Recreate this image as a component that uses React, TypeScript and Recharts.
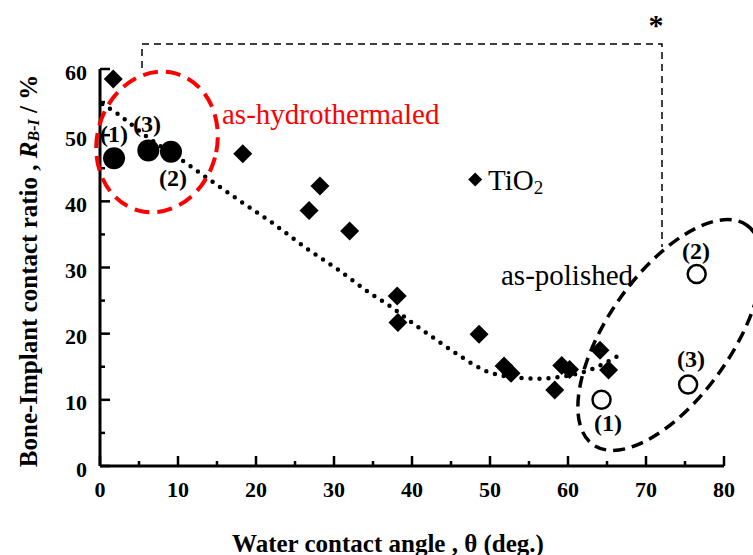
import React from 'react';
import { ScatterChart, Scatter, XAxis, YAxis } from 'recharts';

// TiO2 samples (diamonds)
const tio2Points = [
  { x: 1.7, y: 58.5 },
  { x: 18.3, y: 47.2 },
  { x: 26.8, y: 38.6 },
  { x: 28.2, y: 42.3 },
  { x: 32.0, y: 35.5 },
  { x: 38.1, y: 25.7 },
  { x: 38.2, y: 21.7 },
  { x: 48.6, y: 19.9 },
  { x: 51.8, y: 15.1 },
  { x: 52.7, y: 14.0 },
  { x: 58.3, y: 11.5 },
  { x: 59.2, y: 15.2 },
  { x: 60.2, y: 14.6 },
  { x: 64.1, y: 17.5 },
  { x: 65.2, y: 14.5 },
];

// as-hydrothermaled (filled circles) (1) (3) (2)
const hydroPoints = [
  { x: 1.8, y: 46.5 },
  { x: 6.2, y: 47.7 },
  { x: 9.1, y: 47.5 },
];

// as-polished (open circles) (1) (3) (2)
const polishedPoints = [
  { x: 64.3, y: 10.0 },
  { x: 75.4, y: 12.3 },
  { x: 76.5, y: 29.0 },
];

// dotted trend curve
const trendPoints = [
  { x: 0.3, y: 54.7 },
  { x: 2.3, y: 53.2 },
  { x: 3.4, y: 52.2 },
  { x: 6.1, y: 49.7 },
  { x: 11.0, y: 45.8 },
  { x: 14.0, y: 43.3 },
  { x: 17.9, y: 40.1 },
  { x: 21.9, y: 36.9 },
  { x: 26.6, y: 32.8 },
  { x: 30.6, y: 29.6 },
  { x: 34.4, y: 26.3 },
  { x: 37.4, y: 24.0 },
  { x: 40.2, y: 21.5 },
  { x: 43.2, y: 19.0 },
  { x: 46.2, y: 16.6 },
  { x: 49.4, y: 14.4 },
  { x: 53.0, y: 13.4 },
  { x: 56.4, y: 13.2 },
  { x: 58.6, y: 13.4 },
  { x: 63.2, y: 14.7 },
  { x: 66.5, y: 16.7 },
];

// legend marker for "TiO2"
const legendPoint = [{ x: 48.1, y: 43.3 }];

const xTicks = [0, 5, 10, 15, 20, 25, 30, 35, 40, 45, 50, 55, 60, 65, 70, 75, 80];
const yTicks = [0, 5, 10, 15, 20, 25, 30, 35, 40, 45, 50, 55, 60];

const SERIF = "'Liberation Serif', 'Times New Roman', Times, serif";
const tickFont = { fontFamily: SERIF, fontWeight: 700, fontSize: 22, fill: '#000' };

const tickLen = (v: number) => (v % 10 === 0 ? 10 : 5);

const BottomTick = (props: any) => {
  const { x, y, payload } = props;
  const v = payload.value;
  return (
    <g>
      <line x1={x} y1={y} x2={x} y2={y - tickLen(v)} stroke="#000" strokeWidth={2.5} />
      {v % 10 === 0 && (
        <text x={x} y={y + 23} textAnchor="middle" dominantBaseline="central" style={tickFont}>
          {v}
        </text>
      )}
    </g>
  );
};

const TopTick = (props: any) => {
  const { x, y, payload } = props;
  return <line x1={x} y1={y} x2={x} y2={y + tickLen(payload.value)} stroke="#000" strokeWidth={2.5} />;
};

const LeftTick = (props: any) => {
  const { x, y, payload } = props;
  const v = payload.value;
  return (
    <g>
      <line x1={x} y1={y} x2={x + tickLen(v)} y2={y} stroke="#000" strokeWidth={2.5} />
      {v % 10 === 0 && (
        <text x={x - 13} y={y + 3} textAnchor="end" dominantBaseline="central" style={tickFont}>
          {v}
        </text>
      )}
    </g>
  );
};

const RightTick = (props: any) => {
  const { x, y, payload } = props;
  return <line x1={x} y1={y} x2={x - tickLen(payload.value)} y2={y} stroke="#000" strokeWidth={2.5} />;
};

const Diamond = (props: any) => {
  const { cx, cy } = props;
  const s = 9.5;
  return <polygon points={`${cx},${cy - s} ${cx + s},${cy} ${cx},${cy + s} ${cx - s},${cy}`} fill="#000" />;
};

const SmallDiamond = (props: any) => {
  const { cx, cy } = props;
  const s = 7;
  return <polygon points={`${cx},${cy - s} ${cx + s},${cy} ${cx},${cy + s} ${cx - s},${cy}`} fill="#000" />;
};

const FilledCircle = (props: any) => <circle cx={props.cx} cy={props.cy} r={11} fill="#000" />;
const OpenCircle = (props: any) => (
  <circle cx={props.cx} cy={props.cy} r={9} fill="#fff" stroke="#000" strokeWidth={2.5} />
);
const NoShape = () => <g />;

const axisLine = { stroke: '#000', strokeWidth: 3 };

export default function App() {
  const numLabel = { fontFamily: SERIF, fontWeight: 700, fontSize: 24, fill: '#000' };
  const annot = { fontFamily: SERIF, fontSize: 29 };
  const title = { fontFamily: SERIF, fontWeight: 700, fontSize: 25, fill: '#000' };
  return (
    <div style={{ position: 'absolute', left: 0, top: 0, width: 753, height: 555, background: '#fff' }}>
      <ScatterChart width={753} height={555} margin={{ top: 69, right: 29, bottom: 49, left: 40 }}>
        <XAxis
          xAxisId={0}
          type="number"
          dataKey="x"
          domain={[0, 80]}
          ticks={xTicks}
          interval={0}
          height={40}
          axisLine={axisLine}
          tickLine={false}
          tickSize={0}
          tickMargin={0}
          tick={BottomTick}
        />
        <XAxis
          xAxisId="top"
          orientation="top"
          type="number"
          dataKey="x"
          domain={[0, 80]}
          ticks={xTicks}
          interval={0}
          height={0}
          axisLine={axisLine}
          tickLine={false}
          tickSize={0}
          tickMargin={0}
          tick={TopTick}
        />
        <YAxis
          yAxisId={0}
          type="number"
          dataKey="y"
          domain={[0, 60]}
          ticks={yTicks}
          interval={0}
          width={60}
          axisLine={axisLine}
          tickLine={false}
          tickSize={0}
          tickMargin={0}
          tick={LeftTick}
        />
        <YAxis
          yAxisId="right"
          orientation="right"
          type="number"
          dataKey="y"
          domain={[0, 60]}
          ticks={yTicks}
          interval={0}
          width={0}
          axisLine={axisLine}
          tickLine={false}
          tickSize={0}
          tickMargin={0}
          tick={RightTick}
        />
        <Scatter
          data={trendPoints}
          line={{ stroke: '#000', strokeWidth: 4.5, strokeDasharray: '0 9', strokeLinecap: 'round' }}
          lineJointType="monotoneX"
          shape={NoShape}
          isAnimationActive={false}
        />
        <Scatter data={tio2Points} shape={Diamond} isAnimationActive={false} />
        <Scatter data={hydroPoints} shape={FilledCircle} isAnimationActive={false} />
        <Scatter data={polishedPoints} shape={OpenCircle} isAnimationActive={false} />
        <Scatter data={legendPoint} shape={SmallDiamond} isAnimationActive={false} />
      </ScatterChart>

      <svg
        width={753}
        height={555}
        style={{ position: 'absolute', left: 0, top: 0, pointerEvents: 'none' }}
      >
        {/* significance bracket */}
        <path d="M142,68 L142,44 L662,44 L662,247" fill="none" stroke="#000" strokeWidth={1.5} strokeDasharray="7 5" />
        <text x={656} y={35} textAnchor="middle" style={{ fontFamily: SERIF, fontWeight: 700, fontSize: 30 }}>*</text>

        {/* group ellipses */}
        <ellipse
          cx={157}
          cy={142}
          rx={60}
          ry={71}
          transform="rotate(15 157 142)"
          fill="none"
          stroke="#ff0000"
          strokeWidth={4}
          strokeDasharray="15 8"
        />
        <ellipse
          cx={670}
          cy={335}
          rx={134}
          ry={62}
          transform="rotate(-55 670 335)"
          fill="none"
          stroke="#000"
          strokeWidth={3.5}
          strokeDasharray="12 7"
        />

        {/* sample numbers */}
        <text x={114} y={134} textAnchor="middle" dominantBaseline="central" style={numLabel}>(1)</text>
        <text x={147} y={124} textAnchor="middle" dominantBaseline="central" style={numLabel}>(3)</text>
        <text x={173} y={178} textAnchor="middle" dominantBaseline="central" style={numLabel}>(2)</text>
        <text x={608} y={423} textAnchor="middle" dominantBaseline="central" style={numLabel}>(1)</text>
        <text x={691} y={359} textAnchor="middle" dominantBaseline="central" style={numLabel}>(3)</text>
        <text x={696} y={251} textAnchor="middle" dominantBaseline="central" style={numLabel}>(2)</text>

        <text x={222} y={114} dominantBaseline="central" style={{ ...annot, fill: '#ff0000' }}>as-hydrothermaled</text>
        <text x={501} y={275} dominantBaseline="central" style={{ ...annot, fill: '#000' }}>as-polished</text>
        <text x={488} y={180} dominantBaseline="central" style={{ ...annot, fill: '#000' }}>
          TiO<tspan style={{ fontSize: 19 }} dy={7}>2</tspan>
        </text>

        {/* axis titles */}
        <text x={388} y={543} textAnchor="middle" dominantBaseline="central" style={title}>
          Water contact angle , θ (deg.)
        </text>
        <text
          x={28}
          y={271}
          textAnchor="middle"
          dominantBaseline="central"
          transform="rotate(-90 28 271)"
          style={title}
        >
          Bone-Implant contact ratio , <tspan style={{ fontStyle: 'italic' }}>R</tspan>
          <tspan style={{ fontStyle: 'italic', fontSize: 16 }} dy={5}>B-I</tspan>
          <tspan dy={-5}> / %</tspan>
        </text>
      </svg>
    </div>
  );
}
